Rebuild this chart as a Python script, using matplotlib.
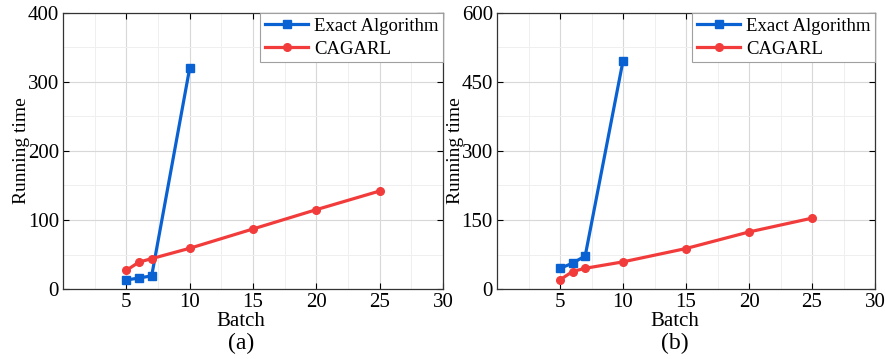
import numpy as np
import matplotlib
matplotlib.use('Agg')
import matplotlib.pyplot as plt
from matplotlib.ticker import MultipleLocator

plt.rcParams['font.family'] = ['Liberation Serif', 'DejaVu Serif']

# panel (a)
exact_x = [5, 6, 7, 10]
exact_a = [13, 16, 19, 320]
cagarl_x = [5, 6, 7, 10, 15, 20, 25]
cagarl_a = [27, 39, 44, 59, 87, 115, 142]

# panel (b)
exact_b = [45, 56, 72, 496]
cagarl_b = [20, 38, 45, 59, 88, 124, 154]

blue = '#0a62d2'
red = '#f23c3c'

W, H = 886, 359
fig = plt.figure(figsize=(W / 100, H / 100), dpi=100)
ax1 = fig.add_axes([63/W, 1 - 289/H, 380/W, 276/H])
ax2 = fig.add_axes([497/W, 1 - 289/H, 378/W, 276/H])


def style(ax, ymax, ystep, label, cx):
    ax.set_xlim(0, 30)
    ax.set_ylim(0, ymax)
    ax.xaxis.set_major_locator(MultipleLocator(5))
    ax.xaxis.set_minor_locator(MultipleLocator(2.5))
    ax.yaxis.set_major_locator(MultipleLocator(ystep))
    ax.yaxis.set_minor_locator(MultipleLocator(ystep / 2))
    ax.set_xticks([5, 10, 15, 20, 25, 30])
    ax.grid(True, which='major', color='#d8d8d8', lw=0.8)
    ax.grid(True, which='minor', color='#efefef', lw=0.7)
    ax.set_axisbelow(True)
    ax.tick_params(which='major', direction='in', top=True, right=True,
                   length=4, width=0.8, labelsize=15, pad=3)
    ax.tick_params(which='minor', length=0)
    for s in ax.spines.values():
        s.set_color('#333333')
        s.set_linewidth(0.9)
    ax.set_ylabel('Running time', fontsize=14, labelpad=-2)
    fig.text(cx / W, 1 - 322 / H, 'Batch', ha='center', va='center', fontsize=15)
    fig.text(cx / W, 1 - 343 / H, label, ha='center', va='center', fontsize=17)
    leg = ax.legend(loc='upper right', borderaxespad=0, fontsize=13.5,
                    fancybox=False, framealpha=1, edgecolor='#a0a0a0',
                    handlelength=2.3, borderpad=0.25, labelspacing=0.3,
                    handletextpad=0.3)
    leg.get_frame().set_linewidth(0.8)


ax1.plot(exact_x, exact_a, '-s', color=blue, lw=2.3, ms=5.5, label='Exact Algorithm')
ax1.plot(cagarl_x, cagarl_a, '-o', color=red, lw=2.3, ms=5.5, label='CAGARL')
style(ax1, 400, 100, '(a)', 241)

ax2.plot(exact_x, exact_b, '-s', color=blue, lw=2.3, ms=5.5, label='Exact Algorithm')
ax2.plot(cagarl_x, cagarl_b, '-o', color=red, lw=2.3, ms=5.5, label='CAGARL')
style(ax2, 600, 150, '(b)', 675)

fig.savefig('out.png', dpi=100)
